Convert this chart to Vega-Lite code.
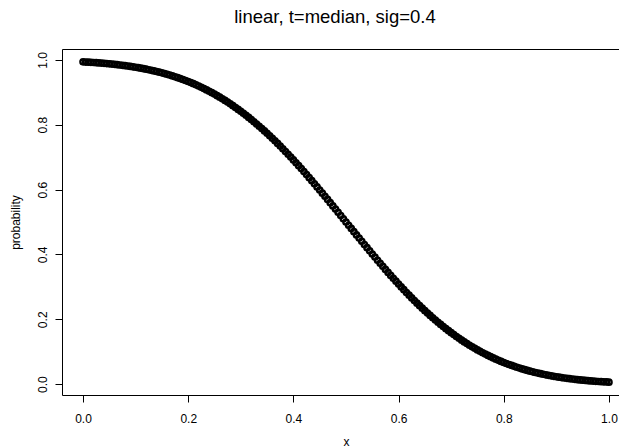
{
"$schema": "https://vega.github.io/schema/vega-lite/v6.json",
"width": 568,
"height": 346,
"autosize": {"type": "none"},
"padding": {"left": 62, "top": 49, "right": 0, "bottom": 52},
"background": "white",
"config": {
  "view": {"stroke": "black", "strokeWidth": 1},
  "font": "Liberation Sans",
  "axis": {"grid": false, "domain": false, "tickColor": "black", "tickSize": 7, "tickWidth": 1, "labelColor": "black", "labelFontSize": 12, "labelFont": "Liberation Sans", "titleFont": "Liberation Sans", "titleFontWeight": "normal", "titleFontSize": 12, "titleColor": "black"}
},
"title": {"text": "linear, t=median, sig=0.4", "fontSize": 18.5, "fontWeight": "normal", "font": "Liberation Sans", "color": "black", "baseline": "alphabetic", "offset": 8, "dx": -11},
"data": {"values": [
{"x":0.000,"p":0.9938},{"x":0.005,"p":0.9933},{"x":0.010,"p":0.9929},{"x":0.015,"p":0.9923},{"x":0.020,"p":0.9918},{"x":0.025,"p":0.9912},{"x":0.030,"p":0.9906},{"x":0.035,"p":0.9900},{"x":0.040,"p":0.9893},{"x":0.045,"p":0.9885},
{"x":0.050,"p":0.9878},{"x":0.055,"p":0.9870},{"x":0.060,"p":0.9861},{"x":0.065,"p":0.9852},{"x":0.070,"p":0.9842},{"x":0.075,"p":0.9832},{"x":0.080,"p":0.9821},{"x":0.085,"p":0.9810},{"x":0.090,"p":0.9798},{"x":0.095,"p":0.9786},
{"x":0.100,"p":0.9772},{"x":0.105,"p":0.9759},{"x":0.110,"p":0.9744},{"x":0.115,"p":0.9729},{"x":0.120,"p":0.9713},{"x":0.125,"p":0.9696},{"x":0.130,"p":0.9678},{"x":0.135,"p":0.9660},{"x":0.140,"p":0.9641},{"x":0.145,"p":0.9621},
{"x":0.150,"p":0.9599},{"x":0.155,"p":0.9577},{"x":0.160,"p":0.9554},{"x":0.165,"p":0.9530},{"x":0.170,"p":0.9505},{"x":0.175,"p":0.9479},{"x":0.180,"p":0.9452},{"x":0.185,"p":0.9424},{"x":0.190,"p":0.9394},{"x":0.195,"p":0.9364},
{"x":0.200,"p":0.9332},{"x":0.205,"p":0.9299},{"x":0.210,"p":0.9265},{"x":0.215,"p":0.9229},{"x":0.220,"p":0.9192},{"x":0.225,"p":0.9154},{"x":0.230,"p":0.9115},{"x":0.235,"p":0.9074},{"x":0.240,"p":0.9032},{"x":0.245,"p":0.8989},
{"x":0.250,"p":0.8944},{"x":0.255,"p":0.8897},{"x":0.260,"p":0.8849},{"x":0.265,"p":0.8800},{"x":0.270,"p":0.8749},{"x":0.275,"p":0.8697},{"x":0.280,"p":0.8643},{"x":0.285,"p":0.8588},{"x":0.290,"p":0.8531},{"x":0.295,"p":0.8473},
{"x":0.300,"p":0.8413},{"x":0.305,"p":0.8352},{"x":0.310,"p":0.8289},{"x":0.315,"p":0.8225},{"x":0.320,"p":0.8159},{"x":0.325,"p":0.8092},{"x":0.330,"p":0.8023},{"x":0.335,"p":0.7953},{"x":0.340,"p":0.7881},{"x":0.345,"p":0.7808},
{"x":0.350,"p":0.7734},{"x":0.355,"p":0.7658},{"x":0.360,"p":0.7580},{"x":0.365,"p":0.7502},{"x":0.370,"p":0.7422},{"x":0.375,"p":0.7340},{"x":0.380,"p":0.7257},{"x":0.385,"p":0.7174},{"x":0.390,"p":0.7088},{"x":0.395,"p":0.7002},
{"x":0.400,"p":0.6915},{"x":0.405,"p":0.6826},{"x":0.410,"p":0.6736},{"x":0.415,"p":0.6646},{"x":0.420,"p":0.6554},{"x":0.425,"p":0.6462},{"x":0.430,"p":0.6368},{"x":0.435,"p":0.6274},{"x":0.440,"p":0.6179},{"x":0.445,"p":0.6083},
{"x":0.450,"p":0.5987},{"x":0.455,"p":0.5890},{"x":0.460,"p":0.5793},{"x":0.465,"p":0.5695},{"x":0.470,"p":0.5596},{"x":0.475,"p":0.5497},{"x":0.480,"p":0.5398},{"x":0.485,"p":0.5299},{"x":0.490,"p":0.5199},{"x":0.495,"p":0.5100},
{"x":0.500,"p":0.5000},{"x":0.505,"p":0.4900},{"x":0.510,"p":0.4801},{"x":0.515,"p":0.4701},{"x":0.520,"p":0.4602},{"x":0.525,"p":0.4503},{"x":0.530,"p":0.4404},{"x":0.535,"p":0.4305},{"x":0.540,"p":0.4207},{"x":0.545,"p":0.4110},
{"x":0.550,"p":0.4013},{"x":0.555,"p":0.3917},{"x":0.560,"p":0.3821},{"x":0.565,"p":0.3726},{"x":0.570,"p":0.3632},{"x":0.575,"p":0.3538},{"x":0.580,"p":0.3446},{"x":0.585,"p":0.3354},{"x":0.590,"p":0.3264},{"x":0.595,"p":0.3174},
{"x":0.600,"p":0.3085},{"x":0.605,"p":0.2998},{"x":0.610,"p":0.2912},{"x":0.615,"p":0.2826},{"x":0.620,"p":0.2743},{"x":0.625,"p":0.2660},{"x":0.630,"p":0.2578},{"x":0.635,"p":0.2498},{"x":0.640,"p":0.2420},{"x":0.645,"p":0.2342},
{"x":0.650,"p":0.2266},{"x":0.655,"p":0.2192},{"x":0.660,"p":0.2119},{"x":0.665,"p":0.2047},{"x":0.670,"p":0.1977},{"x":0.675,"p":0.1908},{"x":0.680,"p":0.1841},{"x":0.685,"p":0.1775},{"x":0.690,"p":0.1711},{"x":0.695,"p":0.1648},
{"x":0.700,"p":0.1587},{"x":0.705,"p":0.1527},{"x":0.710,"p":0.1469},{"x":0.715,"p":0.1412},{"x":0.720,"p":0.1357},{"x":0.725,"p":0.1303},{"x":0.730,"p":0.1251},{"x":0.735,"p":0.1200},{"x":0.740,"p":0.1151},{"x":0.745,"p":0.1103},
{"x":0.750,"p":0.1056},{"x":0.755,"p":0.1011},{"x":0.760,"p":0.0968},{"x":0.765,"p":0.0926},{"x":0.770,"p":0.0885},{"x":0.775,"p":0.0846},{"x":0.780,"p":0.0808},{"x":0.785,"p":0.0771},{"x":0.790,"p":0.0735},{"x":0.795,"p":0.0701},
{"x":0.800,"p":0.0668},{"x":0.805,"p":0.0636},{"x":0.810,"p":0.0606},{"x":0.815,"p":0.0576},{"x":0.820,"p":0.0548},{"x":0.825,"p":0.0521},{"x":0.830,"p":0.0495},{"x":0.835,"p":0.0470},{"x":0.840,"p":0.0446},{"x":0.845,"p":0.0423},
{"x":0.850,"p":0.0401},{"x":0.855,"p":0.0379},{"x":0.860,"p":0.0359},{"x":0.865,"p":0.0340},{"x":0.870,"p":0.0322},{"x":0.875,"p":0.0304},{"x":0.880,"p":0.0287},{"x":0.885,"p":0.0271},{"x":0.890,"p":0.0256},{"x":0.895,"p":0.0241},
{"x":0.900,"p":0.0228},{"x":0.905,"p":0.0214},{"x":0.910,"p":0.0202},{"x":0.915,"p":0.0190},{"x":0.920,"p":0.0179},{"x":0.925,"p":0.0168},{"x":0.930,"p":0.0158},{"x":0.935,"p":0.0148},{"x":0.940,"p":0.0139},{"x":0.945,"p":0.0130},
{"x":0.950,"p":0.0122},{"x":0.955,"p":0.0115},{"x":0.960,"p":0.0107},{"x":0.965,"p":0.0100},{"x":0.970,"p":0.0094},{"x":0.975,"p":0.0088},{"x":0.980,"p":0.0082},{"x":0.985,"p":0.0077},{"x":0.990,"p":0.0071},{"x":0.995,"p":0.0067},
{"x":1.000,"p":0.0062}
]},
"mark": {"type": "point", "shape": "circle", "filled": false, "stroke": "black", "strokeWidth": 2.4, "size": 28, "opacity": 1, "clip": false},
"encoding": {
  "x": {"field": "x", "type": "quantitative", "scale": {"domain": [-0.04, 1.04], "nice": false, "zero": false},
        "axis": {"values": [0, 0.2, 0.4, 0.6, 0.8, 1.0], "format": ".1f", "labelPadding": 11, "title": "x", "titlePadding": 12, "labelFlush": false}},
  "y": {"field": "p", "type": "quantitative", "scale": {"domain": [-0.0335, 1.0335], "nice": false, "zero": false},
        "axis": {"values": [0, 0.2, 0.4, 0.6, 0.8, 1.0], "format": ".1f", "labelAngle": -90, "labelAlign": "center", "labelBaseline": "bottom", "labelPadding": 6, "title": "probability", "titlePadding": 14, "labelFlush": false}}
}
}
